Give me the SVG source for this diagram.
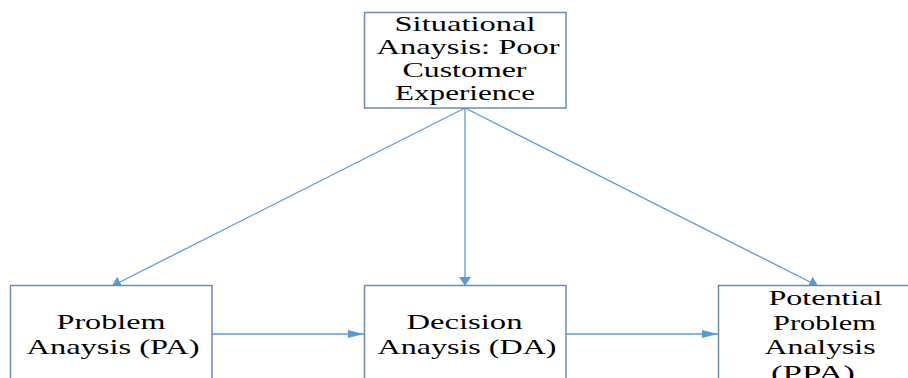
<svg xmlns="http://www.w3.org/2000/svg" width="908" height="378" viewBox="0 0 908 378">
<style>
.box{fill:#ffffff;stroke:#6a8cb4;stroke-width:1.5}
.t{font-size:22px;fill:#000;text-anchor:middle}
.c{stroke:#5b9bd5;stroke-width:1.3;fill:none}
</style>
<defs>
<marker id="ah" viewBox="0 0 16 8" refX="16" refY="4" markerWidth="16" markerHeight="8" markerUnits="userSpaceOnUse" orient="auto">
<path d="M0,0 L16,4 L0,8 Z" fill="#5b9bd5"/>
</marker>
<marker id="av" viewBox="0 0 9 12" refX="9" refY="6" markerWidth="9" markerHeight="12" markerUnits="userSpaceOnUse" orient="auto">
<path d="M0,0 L9,6 L0,12 Z" fill="#5b9bd5"/>
</marker>
</defs>
<g id="connectors">
<line class="c" x1="465" y1="108" x2="112" y2="286" marker-end="url(#av)"/>
<line class="c" x1="465" y1="108" x2="465" y2="286" marker-end="url(#av)"/>
<line class="c" x1="465" y1="108" x2="818" y2="286" marker-end="url(#av)"/>
<line class="c" x1="212" y1="334" x2="364" y2="334" marker-end="url(#ah)"/>
<line class="c" x1="566" y1="334" x2="718" y2="334" marker-end="url(#ah)"/>
</g>
<g font-family="Liberation Serif, Times New Roman, serif">
<g id="situational">
<rect class="box" x="364.5" y="12.5" width="201.5" height="95.5"/>
<text class="t" x="465" y="30.5" textLength="141" lengthAdjust="spacingAndGlyphs">Situational</text>
<text class="t" x="468" y="53.5" textLength="183" lengthAdjust="spacingAndGlyphs">Anaysis: Poor</text>
<text class="t" x="464.5" y="76.5" textLength="124" lengthAdjust="spacingAndGlyphs">Customer</text>
<text class="t" x="465" y="99.5" textLength="140" lengthAdjust="spacingAndGlyphs">Experience</text>
</g>
<g id="pa">
<rect class="box" x="10.5" y="285.5" width="201.5" height="110"/>
<text class="t" x="111" y="329" textLength="109" lengthAdjust="spacingAndGlyphs">Problem</text>
<text class="t" x="113" y="353.5" textLength="173" lengthAdjust="spacingAndGlyphs">Anaysis (PA)</text>
</g>
<g id="da">
<rect class="box" x="364.5" y="285.5" width="201.5" height="110"/>
<text class="t" x="464.5" y="329" textLength="116" lengthAdjust="spacingAndGlyphs">Decision</text>
<text class="t" x="467" y="353.5" textLength="179" lengthAdjust="spacingAndGlyphs">Anaysis (DA)</text>
</g>
<g id="ppa">
<rect class="box" x="718.5" y="285.5" width="210" height="110"/>
<text class="t" x="825.5" y="305" textLength="114" lengthAdjust="spacingAndGlyphs">Potential</text>
<text class="t" x="824.5" y="329.5" textLength="103" lengthAdjust="spacingAndGlyphs">Problem</text>
<text class="t" x="820" y="354" textLength="111" lengthAdjust="spacingAndGlyphs">Analysis</text>
<text class="t" x="813" y="380" textLength="84" lengthAdjust="spacingAndGlyphs">(PPA)</text>
</g>
</g>
</svg>
